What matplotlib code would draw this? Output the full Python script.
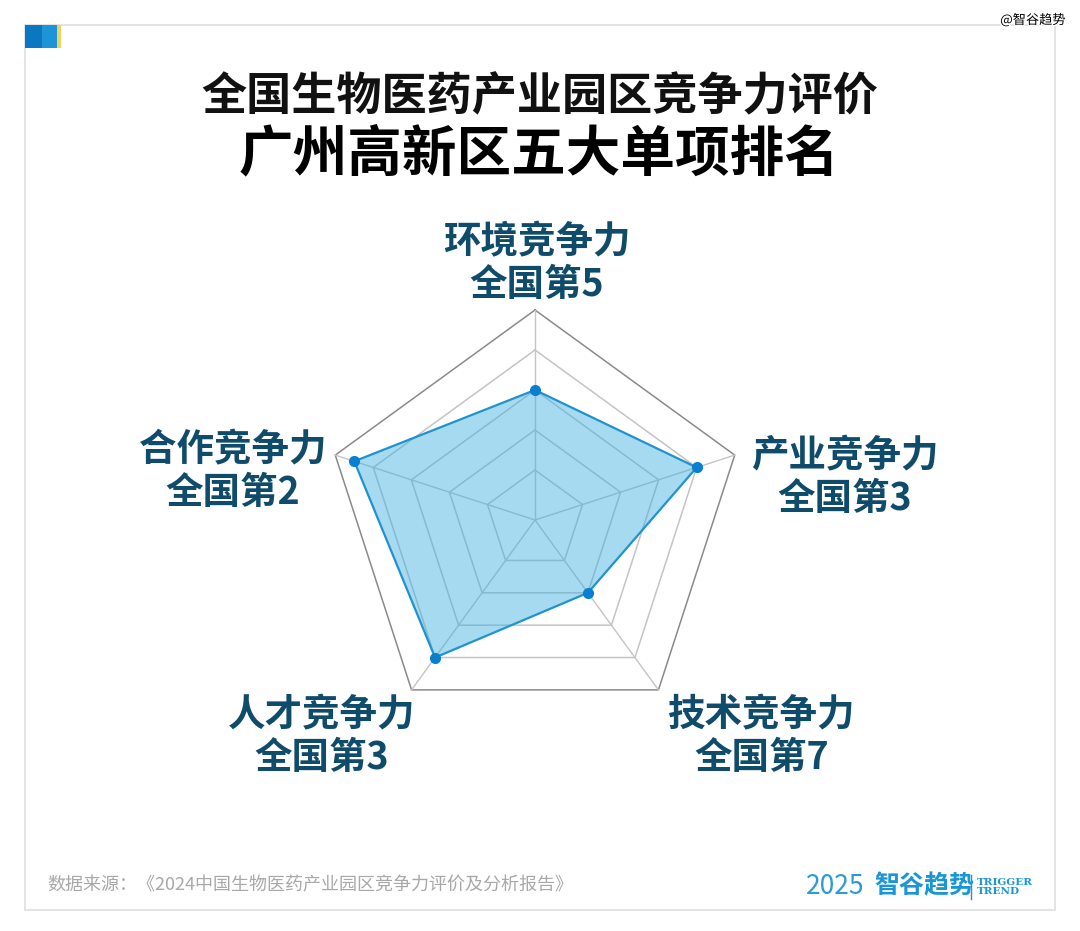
import numpy as np
import matplotlib
matplotlib.use("Agg")
import matplotlib.pyplot as plt
from matplotlib.patches import Rectangle
import matplotlib.patheffects as pe

plt.rcParams['font.family'] = ['Noto Sans CJK SC', 'DejaVu Sans']

# ---- data ----
title1 = "全国生物医药产业园区竞争力评价"
title2 = "广州高新区五大单项排名"
categories = ["环境竞争力", "产业竞争力", "技术竞争力", "人才竞争力", "合作竞争力"]
ranks = [5, 3, 7, 3, 2]
ring_ranks = [9, 7, 5, 3, 1]
source = "数据来源：《2024中国生物医药产业园区竞争力评价及分析报告》"

W, H = 1080, 931
fig = plt.figure(figsize=(W / 100, H / 100), dpi=100)
fig.patch.set_facecolor("white")

def fx(x):
    return x / W

def fy(y):
    return 1 - y / H

# card border
card = Rectangle((fx(25), fy(910)), fx(1055) - fx(25), fy(25) - fy(910),
                 transform=fig.transFigure, facecolor="white", edgecolor="#dedede",
                 lw=1.2, zorder=-5)
fig.patches.append(card)
# tab
fig.patches.append(Rectangle((fx(25), fy(48)), fx(42) - fx(25), fy(25) - fy(48),
                             transform=fig.transFigure, facecolor="#0a78c0", edgecolor="none", zorder=1))
fig.patches.append(Rectangle((fx(42), fy(48)), fx(57) - fx(42), fy(25) - fy(48),
                             transform=fig.transFigure, facecolor="#1c95d8", edgecolor="none", zorder=1))
fig.patches.append(Rectangle((fx(57), fy(48)), fx(61) - fx(57), fy(25) - fy(48),
                             transform=fig.transFigure, facecolor="#eed35a", edgecolor="none", zorder=1))

# watermark
fig.text(fx(1033), fy(20), "@智谷趋势", ha="center", va="center", fontsize=9.5,
         color="black", path_effects=[pe.withStroke(linewidth=2, foreground="white")])

# titles
fig.text(fx(540), fy(97), title1, ha="center", va="center", fontsize=32.5,
         fontweight="bold", color="#111111")
fig.text(fx(539), fy(155), title2, ha="center", va="center", fontsize=39.3,
         fontweight="heavy", color="#000000")

# ---- radar ----
cx, cy, R = 535, 520, 210
ax = fig.add_axes([fx(cx - R), fy(cy + R), 2 * R / W, 2 * R / H], projection="polar")
ax.set_zorder(2)
ax.set_theta_offset(np.pi / 2)
ax.set_theta_direction(-1)
rmax_rank = 11.5
ax.set_ylim(0, rmax_rank - 1)
ax.set_xticks([])
ax.set_yticks([])
ax.grid(False)
ax.spines["polar"].set_visible(False)
ax.set_facecolor("none")

n = len(categories)
angles = np.linspace(0, 2 * np.pi, n, endpoint=False)
closed = np.concatenate([angles, angles[:1]])

for rr in ring_ranks:
    rv = rmax_rank - rr
    col = "#8a8a8a" if rr == min(ring_ranks) else "#c4c4c4"
    ax.plot(closed, [rv] * (n + 1), color=col, lw=1.1, zorder=1, clip_on=False)
for a in angles:
    ax.plot([a, a], [0, rmax_rank - min(ring_ranks)], color="#c4c4c4", lw=1.0, zorder=1,
            clip_on=False)

vals = [rmax_rank - r for r in ranks]
vclosed = vals + vals[:1]
ax.fill(closed, vclosed, color="#3aaee0", alpha=0.45, zorder=2, lw=0)
ax.plot(closed, vclosed, color="#1f93cf", lw=1.6, zorder=3)
ax.plot(angles, vals, "o", color="#0b7fcf", ms=7, zorder=4)

# labels
label_pos = [(537, 263), (845, 477), (762, 736), (322, 736), (233, 471)]
for cat, rk, (lx, ly) in zip(categories, ranks, label_pos):
    fig.text(fx(lx), fy(ly), f"{cat}\n全国第{rk}", ha="center", va="center",
             fontsize=27, fontweight="bold", color="#0f4b6a", linespacing=1.12)

# footer
fig.text(fx(47), fy(885), source, ha="left", va="center", fontsize=13,
         color="#a8a8a8")
fig.text(fx(806), fy(887), "2025", ha="left", va="center", fontsize=19,
         color="#2a9bd6", fontweight="light")
fig.text(fx(874), fy(886), "智谷趋势", ha="left", va="center", fontsize=18,
         color="#1a96d6", fontweight="heavy")
fig.lines.append(plt.Line2D([fx(971), fx(971)], [fy(875), fy(899)], transform=fig.transFigure,
                            color="#1a96d6", lw=1))
fig.text(fx(977), fy(887), "TRIGGER\nTREND", ha="left", va="center", fontsize=7.5,
         color="#1a96d6", family=["DejaVu Serif"], fontweight="bold", linespacing=1.0)

fig.savefig("out.png", dpi=100, facecolor="white")
